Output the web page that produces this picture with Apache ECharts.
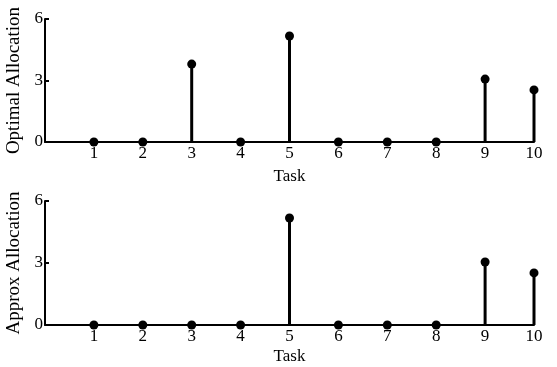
<!DOCTYPE html>
<html>
<head>
<meta charset="utf-8">
<script src="https://cdn.jsdelivr.net/npm/echarts@6/dist/echarts.min.js"></script>
<style>
  html, body { margin: 0; padding: 0; background: #fff; }
  #chart { width: 557px; height: 367px; }
</style>
</head>
<body>
<div id="chart"></div>
<script>
const tasks = [1, 2, 3, 4, 5, 6, 7, 8, 9, 10]
const optimalAlloc = [0, 0, 3.8, 0, 5.17, 0, 0, 0, 3.07, 2.54]
const approxAlloc = [0, 0, 0, 0, 5.18, 0, 0, 0, 3.05, 2.52]
const yTicks = [0, 3, 6]

const FONT = 'Liberation Serif'
const chart = echarts.init(document.getElementById('chart'), null, { renderer: 'canvas' })

const grids = [
  { left: 45, right: 23, top: 19, height: 123, outerBoundsMode: 'none', containLabel: false },
  { left: 45, right: 23, top: 201, height: 124, outerBoundsMode: 'none', containLabel: false },
]
const yNames = ['Optimal Allocation', 'Approx Allocation']
const taskGaps = [26, 23]
const seriesData = [optimalAlloc, approxAlloc]

const xAxis = grids.map((g, i) => ({
  gridIndex: i, type: 'value', min: 0, max: 10, interval: 1,
  name: 'Task', nameLocation: 'middle', nameGap: taskGaps[i],
  nameTextStyle: { fontFamily: FONT, fontSize: 17, color: '#000' },
  axisLine: { lineStyle: { color: '#000', width: 2 } },
  axisTick: { show: false },
  splitLine: { show: false },
  axisLabel: {
    fontFamily: FONT, fontSize: 17, color: '#000', margin: 3,
    formatter: v => (tasks.includes(v) ? String(v) : ''),
  },
}))

const yAxis = grids.map((g, i) => ({
  gridIndex: i, type: 'value', min: 0, max: 6, interval: 3,
  name: yNames[i], nameLocation: 'middle', nameGap: 15, nameRotate: 90,
  nameTextStyle: { fontFamily: FONT, fontSize: 19, color: '#000' },
  axisLine: { show: true, lineStyle: { color: '#000', width: 2 } },
  axisTick: { show: true, inside: true, length: 4, lineStyle: { color: '#000', width: 2 } },
  splitLine: { show: false },
  axisLabel: { fontFamily: FONT, fontSize: 17, color: '#000', margin: 2,
    formatter: v => (yTicks.includes(v) ? String(v) : '') },
}))

const series = []
seriesData.forEach((vals, i) => {
  const pts = tasks.map((t, k) => [t, vals[k]])
  series.push({
    type: 'bar', xAxisIndex: i, yAxisIndex: i, data: pts,
    barWidth: 3, itemStyle: { color: '#000' }, silent: true, animation: false,
  })
  series.push({
    type: 'scatter', xAxisIndex: i, yAxisIndex: i, data: pts,
    symbolSize: 9, itemStyle: { color: '#000', opacity: 1 }, z: 5, animation: false,
  })
})

chart.setOption({ grid: grids, xAxis, yAxis, series, animation: false })
</script>
</body>
</html>
